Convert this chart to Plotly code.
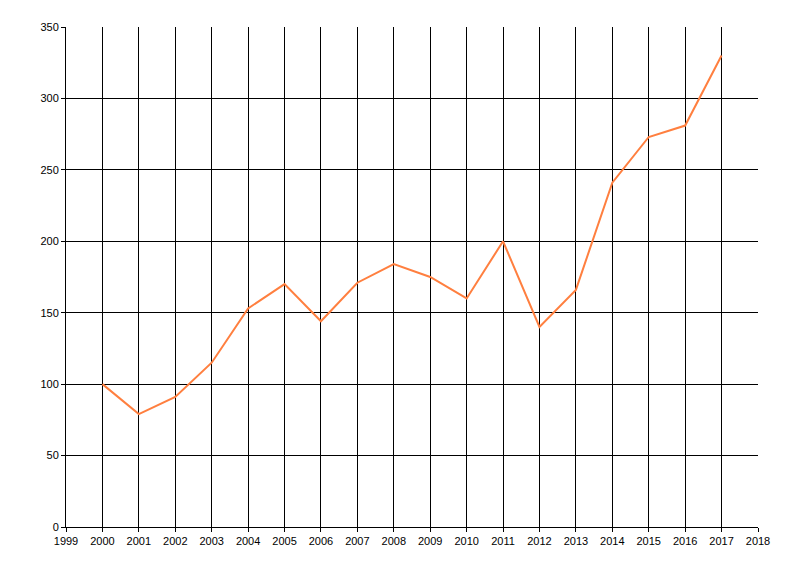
import plotly.graph_objects as go

# Yearly values
years = list(range(2000, 2018))
values = [100, 79, 91, 115, 153, 170, 144, 171, 184, 175, 160, 200, 140, 166, 241, 273, 281, 330]

fig = go.Figure()
fig.add_trace(go.Scatter(
    x=years,
    y=values,
    mode="lines",
    line=dict(color="#ff7f3f", width=2),
    showlegend=False,
))

axis_style = dict(
    showgrid=True,
    gridcolor="black",
    gridwidth=1,
    showline=True,
    linecolor="black",
    linewidth=1,
    ticks="outside",
    ticklen=4,
    tickcolor="black",
    zeroline=False,
    tickfont=dict(family="Liberation Sans", size=11, color="black"),
)

fig.update_xaxes(range=[1999, 2018], dtick=1, tick0=1999, **axis_style)
fig.update_yaxes(range=[0, 350], dtick=50, **axis_style)

# page body adds ~8px offset, so margins are shifted to compensate
fig.update_layout(
    width=800,
    height=576,
    margin=dict(l=58, r=50, t=19, b=57),
    plot_bgcolor="white",
    paper_bgcolor="white",
)

fig.write_html("out.html")
